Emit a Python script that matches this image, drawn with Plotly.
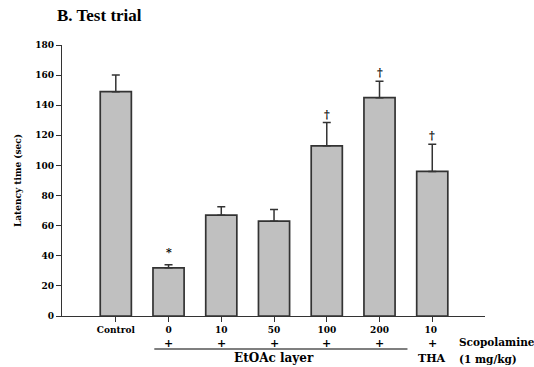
import plotly.graph_objects as go

# Data
categories = ["Control", "0", "10", "50", "100", "200", "10 "]
latency = [149, 32, 67, 63, 113, 145, 96]
sem = [11, 2, 5.5, 7.7, 15.5, 11, 18]
plus_signs = ["", "+", "+", "+", "+", "+", "+"]
markers = ["", "*", "", "", "†", "†", "†"]
y_ticks = [0, 20, 40, 60, 80, 100, 120, 140, 160, 180]

x_pos = list(range(len(categories)))
FONT = "DejaVu Serif"
DARK = "#333333"
PH = 271.0  # plot height in px


def py(px_below):
    return -px_below / PH


fig = go.Figure()
fig.add_trace(go.Bar(
    x=x_pos, y=latency, width=0.59,
    marker=dict(color="#c0c0c0", line=dict(color=DARK, width=1.7)),
    error_y=dict(type="data", symmetric=False, array=sem,
                 arrayminus=[0] * len(sem), color=DARK, thickness=1.5, width=4),
    showlegend=False,
))

annotations = []
for xi, v, e, m in zip(x_pos, latency, sem, markers):
    if m:
        annotations.append(dict(x=xi, y=v + e, xref="x", yref="y", text="<b>" + m + "</b>",
                                showarrow=False, yanchor="bottom",
                                yshift=4 if m == "*" else 0,
                                font=dict(family=FONT, size=11, color="#000000")))
for xi, p in zip(x_pos, plus_signs):
    if p:
        annotations.append(dict(x=xi, y=py(27), xref="x", yref="paper", text="<b>" + p + "</b>",
                                showarrow=False, yanchor="middle",
                                font=dict(family=FONT, size=11, color="black")))
annotations += [
    dict(x=x_pos[3], y=py(42), xref="x", yref="paper",
         text="<b>EtOAc layer</b>",
         showarrow=False, yanchor="middle", font=dict(family=FONT, size=12, color="black")),
    dict(x=x_pos[6], y=py(42), xref="x", yref="paper", text="<b>THA</b>",
         showarrow=False, yanchor="middle", font=dict(family=FONT, size=11, color="black")),
    dict(x=(457 - 62) / 423.0, y=py(26), xref="paper", yref="paper", text="<b>Scopolamine</b>",
         showarrow=False, xanchor="left", yanchor="middle",
         font=dict(family=FONT, size=10.5, color="black")),
    dict(x=(457 - 62) / 423.0, y=py(43), xref="paper", yref="paper", text="<b>(1 mg/kg)</b>",
         showarrow=False, xanchor="left", yanchor="middle",
         font=dict(family=FONT, size=10.5, color="black")),
    dict(x=(55 - 62) / 423.0, y=1 + 29 / PH, xref="paper", yref="paper", text="<b>B. Test trial</b>",
         showarrow=False, xanchor="left", yanchor="middle",
         font=dict(family="Liberation Serif", size=17, color="black")),
]

shapes = [dict(type="line", xref="x", yref="paper",
               x0=x_pos[1] - 0.27, x1=x_pos[5] + 0.53, y0=py(33), y1=py(33),
               line=dict(color="#555555", width=1.5))]

fig.update_layout(
    width=534, height=367,
    margin=dict(l=62, r=49, t=45, b=51),
    paper_bgcolor="white", plot_bgcolor="white",
    font=dict(family=FONT, color="black"),
    annotations=annotations, shapes=shapes,
    xaxis=dict(range=[-1.02, 7.0], tickvals=x_pos,
               ticktext=["<b>" + c + "</b>" for c in categories],
               ticks="outside", ticklen=5, tickcolor=DARK, showline=True,
               linecolor=DARK, linewidth=1.2, showgrid=False, zeroline=False,
               tickfont=dict(family=FONT, size=9, color="black")),
    yaxis=dict(range=[0, 180], tickvals=y_ticks,
               ticktext=["<b>%d</b>" % t for t in y_ticks],
               ticks="outside", ticklen=5, tickcolor=DARK, showline=True,
               linecolor=DARK, linewidth=1.2, showgrid=False, zeroline=False,
               tickfont=dict(family=FONT, size=9, color="black"),
               title=dict(text="<b>Latency time (sec)</b>", standoff=12,
                          font=dict(family=FONT, size=9, color="black"))),
)

fig.write_html("out.html")
